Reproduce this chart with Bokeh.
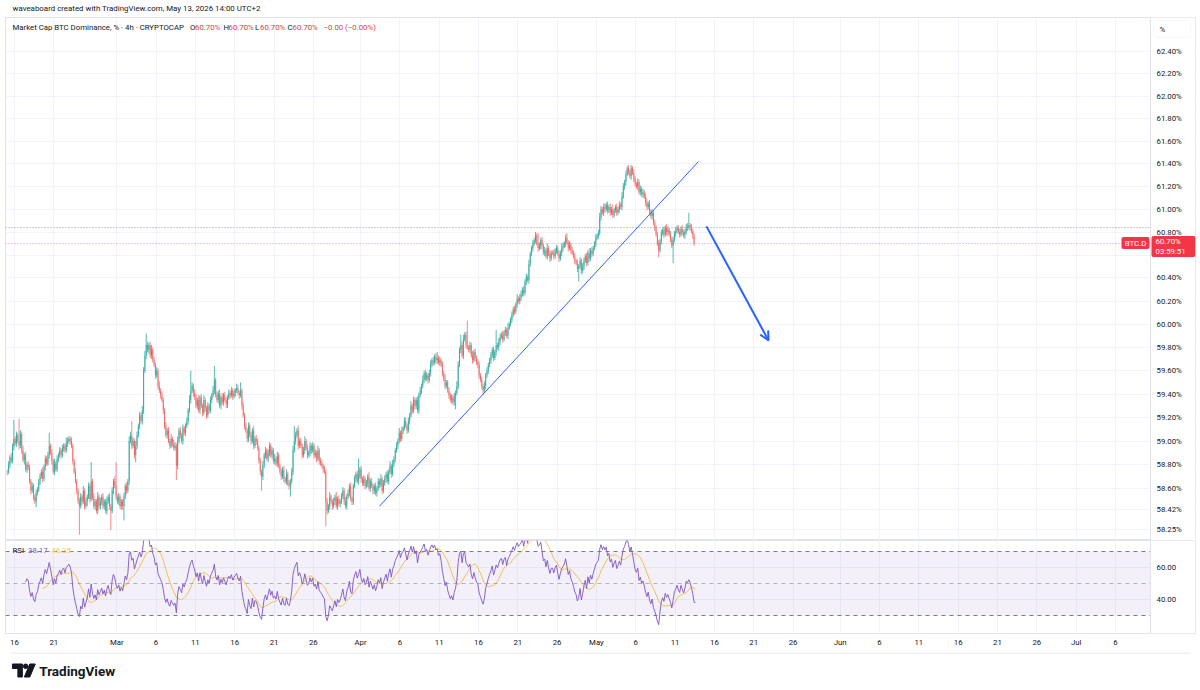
import math
import numpy as np
import pandas as pd
from bokeh.plotting import figure
from bokeh.layouts import column
from bokeh.models import (Range1d, FixedTicker, Span, Label, Arrow, OpenHead,
                          BoxAnnotation, ColumnDataSource)
from bokeh.embed import file_html
from bokeh.resources import INLINE

FONT = "Roboto"
INK = "#131722"
GRID = "#f0f3fa"
BORDER = "#e0e3eb"
UP = "#26a69a"
DOWN = "#ef5350"
TAG = "#f23645"
BLUE = "#2962ff"
RSI_COLOR = "#7e57c2"
MA_COLOR = "#f7cb4d"

# ---- BTC dominance, 4h closes (%) ----
close = [
    58.74, 58.80, 58.86, 58.83, 58.95, 59.02, 58.98, 59.05,
    59.00, 58.96, 59.06, 58.92, 58.84, 58.88, 58.76, 58.80,
    58.78, 58.66, 58.58, 58.62, 58.53, 58.49, 58.56, 58.59,
    58.66, 58.70, 58.74, 58.68, 58.78, 58.85, 58.81, 58.88,
    58.96, 58.90, 58.83, 58.74, 58.81, 58.76, 58.85, 58.88,
    58.92, 58.88, 58.94, 58.96, 58.92, 58.98, 59.00, 59.02,
    59.00, 58.96, 58.83, 58.74, 58.66, 58.58, 58.49, 58.45,
    58.53, 58.49, 58.58, 58.45, 58.49, 58.53, 58.62, 58.51,
    58.66, 58.53, 58.45, 58.49, 58.41, 58.53, 58.45, 58.49,
    58.53, 58.45, 58.49, 58.41, 58.49, 58.53, 58.45, 58.41,
    58.58, 58.66, 58.62, 58.53, 58.49, 58.53, 58.45, 58.49,
    58.45, 58.53, 58.62, 58.58, 58.66, 59.00, 59.05, 58.96,
    59.00, 58.88, 58.96, 59.05, 59.13, 59.22, 59.17, 59.26,
    59.60, 59.73, 59.82, 59.78, 59.82, 59.73, 59.78, 59.69,
    59.65, 59.56, 59.60, 59.47, 59.43, 59.39, 59.35, 59.26,
    59.13, 59.05, 59.09, 59.00, 58.96, 59.02, 58.98, 58.94,
    58.96, 58.79, 59.00, 59.09, 59.05, 59.00, 59.11, 59.07,
    59.13, 59.17, 59.26, 59.35, 59.43, 59.47, 59.41, 59.37,
    59.30, 59.35, 59.26, 59.37, 59.30, 59.24, 59.35, 59.28,
    59.22, 59.30, 59.26, 59.35, 59.39, 59.43, 59.52, 59.39,
    59.35, 59.41, 59.30, 59.37, 59.33, 59.39, 59.35, 59.31,
    59.37, 59.41, 59.39, 59.43, 59.38, 59.41, 59.43, 59.45,
    59.41, 59.39, 59.43, 59.30, 59.22, 59.13, 59.09, 59.02,
    59.13, 59.05, 59.00, 59.09, 58.96, 59.02, 59.00, 58.94,
    58.83, 58.74, 58.70, 58.79, 58.88, 58.92, 58.85, 58.90,
    58.96, 58.88, 58.92, 58.83, 58.85, 58.81, 58.88, 58.79,
    58.74, 58.70, 58.76, 58.68, 58.66, 58.72, 58.64, 58.62,
    58.66, 58.74, 58.92, 59.00, 59.05, 59.09, 58.96, 59.00,
    58.96, 58.88, 58.92, 59.00, 58.94, 58.88, 58.90, 58.96,
    58.92, 58.96, 58.88, 58.90, 58.85, 58.92, 58.83, 58.81,
    58.79, 58.76, 58.74, 58.49, 58.41, 58.45, 58.53, 58.49,
    58.45, 58.49, 58.53, 58.45, 58.51, 58.47, 58.49, 58.53,
    58.58, 58.49, 58.45, 58.53, 58.56, 58.62, 58.51, 58.49,
    58.62, 58.68, 58.72, 58.66, 58.70, 58.76, 58.68, 58.64,
    58.68, 58.62, 58.64, 58.70, 58.60, 58.66, 58.62, 58.58,
    58.62, 58.56, 58.60, 58.66, 58.63, 58.68, 58.58, 58.64,
    58.68, 58.72, 58.66, 58.74, 58.79, 58.72, 58.81, 58.85,
    58.92, 58.96, 59.00, 59.07, 59.02, 59.09, 59.11, 59.17,
    59.13, 59.09, 59.17, 59.22, 59.30, 59.26, 59.35, 59.30,
    59.35, 59.26, 59.39, 59.43, 59.47, 59.52, 59.58, 59.53,
    59.56, 59.52, 59.58, 59.65, 59.69, 59.67, 59.72, 59.69,
    59.71, 59.67, 59.69, 59.65, 59.58, 59.53, 59.47, 59.50,
    59.43, 59.39, 59.35, 59.37, 59.33, 59.38, 59.41, 59.47,
    59.65, 59.78, 59.82, 59.73, 59.87, 59.91, 59.82, 59.80,
    59.78, 59.82, 59.73, 59.69, 59.76, 59.71, 59.67, 59.65,
    59.56, 59.52, 59.47, 59.43, 59.47, 59.56, 59.60, 59.65,
    59.69, 59.73, 59.78, 59.71, 59.76, 59.82, 59.80, 59.85,
    59.89, 59.91, 59.87, 59.93, 59.95, 59.90, 59.97, 60.00,
    60.04, 60.08, 60.13, 60.11, 60.17, 60.22, 60.20, 60.23,
    60.26, 60.30, 60.27, 60.37, 60.41, 60.38, 60.52, 60.61,
    60.66, 60.70, 60.73, 60.77, 60.70, 60.66, 60.68, 60.73,
    60.68, 60.62, 60.64, 60.59, 60.66, 60.61, 60.57, 60.62,
    60.62, 60.59, 60.64, 60.66, 60.61, 60.57, 60.62, 60.66,
    60.68, 60.70, 60.75, 60.71, 60.66, 60.69, 60.64, 60.62,
    60.59, 60.55, 60.53, 60.48, 60.50, 60.55, 60.46, 60.50,
    60.55, 60.59, 60.53, 60.62, 60.57, 60.64, 60.61, 60.66,
    60.70, 60.75, 60.77, 60.79, 60.93, 61.00, 60.97, 61.02,
    61.00, 61.04, 60.99, 61.02, 60.97, 61.00, 60.95, 60.99,
    61.02, 60.97, 61.00, 61.04, 61.02, 61.11, 61.20, 61.24,
    61.31, 61.36, 61.33, 61.29, 61.36, 61.32, 61.27, 61.22,
    61.20, 61.24, 61.15, 61.18, 61.13, 61.15, 61.11, 61.06,
    61.02, 61.05, 60.98, 60.94, 60.97, 60.88, 60.84, 60.78,
    60.70, 60.64, 60.72, 60.79, 60.82, 60.78, 60.84, 60.80,
    60.82, 60.78, 60.74, 60.68, 60.73, 60.79, 60.81, 60.84,
    60.80, 60.78, 60.83, 60.80, 60.77, 60.80, 60.85, 60.84,
    60.86, 60.84, 60.81, 60.77, 60.70, 60.70,
]

# upper / lower shadows beyond the candle body, in hundredths of a point
wick_up = [
    2, 3, 2, 4, 3, 16, 2, 3,   2, 19, 3, 2, 4, 2, 3, 2,   3, 2, 2, 3, 2, 2, 3, 2,
    2, 3, 2, 4, 2, 3, 2, 3,    11, 2, 3, 2, 4, 2, 3, 2,   3, 2, 3, 2, 2, 5, 3, 2,
    2, 3, 2, 2, 3, 2, 2, 3,    3, 2, 4, 2, 3, 2, 3, 2,    16, 2, 3, 2, 2, 4, 2, 3,
    2, 3, 2, 2, 4, 2, 3, 2,    3, 2, 4, 20, 2, 3, 2, 2,   2, 3, 2, 3, 2, 4, 3, 12,
    3, 2, 4, 3, 2, 3, 2, 4,    3, 4, 10, 3, 2, 3, 4, 2,   3, 2, 3, 2, 4, 2, 3, 2,
    2, 3, 2, 3, 2, 4, 2, 3,    3, 2, 4, 2, 3, 2, 3, 2,    2, 3, 2, 4, 17, 3, 2, 3,
    3, 2, 4, 2, 3, 2, 4, 2,    2, 3, 2, 3, 2, 4, 12, 2,   3, 2, 3, 2, 4, 2, 3, 2,
    2, 3, 2, 3, 2, 3, 2, 4,    3, 2, 7, 2, 3, 2, 3, 2,    3, 2, 3, 2, 4, 2, 3, 2,
    2, 3, 2, 4, 2, 3, 2, 3,    3, 2, 3, 2, 4, 2, 3, 2,    2, 3, 2, 3, 2, 4, 2, 3,
    2, 3, 4, 13, 3, 2, 4, 2,   3, 2, 3, 4, 2, 3, 2, 3,    2, 3, 2, 3, 2, 4, 2, 3,
    3, 2, 3, 2, 3, 2, 4, 2,    2, 3, 2, 4, 2, 3, 2, 3,    3, 2, 4, 2, 3, 2, 3, 2,
    2, 3, 2, 3, 15, 2, 3, 2,   3, 2, 3, 2, 4, 2, 3, 2,    2, 3, 2, 3, 2, 4, 2, 3,
    3, 2, 3, 2, 4, 2, 3, 2,    2, 3, 2, 4, 2, 3, 2, 3,    3, 2, 3, 2, 4, 2, 3, 2,
    2, 3, 2, 3, 2, 4, 2, 3,    3, 2, 3, 4, 2, 3, 2, 3,    5, 2, 3, 2, 3, 2, 4, 2,
    2, 3, 2, 3, 2, 3, 2, 4,    3, 2, 9, 3, 4, 2, 3, 21,   2, 3, 2, 4, 2, 3, 2, 3,
    3, 2, 3, 2, 4, 2, 3, 2,    2, 3, 2, 3, 2, 13, 2, 3,   3, 2, 3, 2, 3, 2, 4, 2,
    2, 3, 2, 3, 2, 4, 2, 3,    3, 2, 3, 2, 3, 2, 4, 2,    2, 3, 2, 3, 2, 9, 3, 2,
    3, 2, 3, 2, 4, 2, 3, 2,    2, 3, 2, 3, 2, 3, 2, 4,    3, 2, 3, 4, 2, 3, 2, 3,
    2, 3, 2, 3, 2, 3, 2, 3,    3, 2, 3, 2, 4, 2, 3, 2,    2, 3, 2, 3, 4, 3, 2, 3,
    3, 2, 3, 2, 3, 2, 4, 2,    2, 3, 2, 3, 2, 4, 3, 2,    3, 2, 3, 2, 3, 2, 3, 2,
    2, 3, 2, 3, 2, 3, 2, 3,    3, 2, 3, 2, 3, 2, 3, 2,    2, 3, 2, 3, 2, 3, 2, 3,
    3, 2, 3, 2, 3, 2, 3, 2,    2, 3, 2, 3, 2, 3, 2, 3,    11, 2, 3, 2, 2, 0,
]
wick_down = [
    3, 2, 3, 2, 2, 3, 2, 3,    2, 3, 2, 3, 2, 4, 2, 3,    3, 2, 3, 2, 3, 2, 5, 2,
    2, 3, 2, 3, 2, 3, 2, 2,    3, 2, 3, 2, 3, 2, 2, 3,    2, 3, 2, 3, 2, 2, 3, 2,
    3, 2, 3, 2, 2, 3, 2, 24,   2, 3, 2, 3, 2, 4, 2, 3,    2, 3, 2, 3, 2, 3, 2, 3,
    3, 2, 3, 2, 3, 2, 3, 16,   2, 3, 2, 3, 2, 3, 2, 3,    3, 12, 2, 3, 2, 3, 2, 3,
    2, 3, 6, 3, 2, 3, 2, 3,    3, 2, 3, 2, 3, 2, 3, 2,    2, 3, 2, 3, 2, 3, 2, 3,
    3, 2, 3, 2, 3, 2, 3, 2,    2, 12, 3, 2, 3, 2, 3, 2,   3, 2, 3, 2, 3, 2, 3, 2,
    2, 3, 2, 3, 2, 3, 2, 3,    3, 2, 3, 2, 3, 2, 3, 2,    2, 3, 2, 3, 2, 3, 2, 3,
    3, 2, 3, 2, 3, 2, 3, 2,    2, 3, 2, 3, 2, 3, 2, 3,    3, 2, 3, 2, 3, 2, 3, 2,
    2, 3, 12, 3, 2, 3, 2, 3,   3, 2, 3, 2, 3, 2, 3, 2,    2, 3, 2, 3, 2, 3, 2, 3,
    9, 2, 3, 2, 3, 2, 3, 2,    2, 3, 2, 3, 2, 3, 2, 3,    3, 2, 3, 2, 3, 2, 3, 2,
    2, 3, 2, 21, 3, 2, 3, 2,   3, 2, 3, 2, 3, 2, 3, 2,    2, 3, 2, 3, 2, 3, 2, 3,
    3, 2, 3, 2, 3, 2, 3, 2,    2, 3, 2, 3, 2, 3, 2, 3,    3, 2, 3, 2, 3, 2, 3, 2,
    2, 3, 2, 3, 2, 3, 2, 3,    3, 2, 3, 2, 3, 2, 3, 2,    2, 3, 2, 3, 2, 3, 2, 3,
    3, 2, 3, 2, 3, 2, 3, 2,    2, 3, 2, 3, 2, 3, 2, 3,    3, 2, 3, 2, 3, 2, 3, 2,
    2, 3, 2, 3, 2, 3, 11, 2,   3, 2, 3, 2, 3, 2, 3, 2,    2, 3, 2, 3, 2, 3, 2, 3,
    3, 2, 3, 4, 2, 3, 2, 3,    2, 3, 2, 3, 2, 3, 2, 3,    3, 2, 3, 2, 3, 2, 3, 2,
    2, 3, 2, 3, 2, 3, 2, 3,    3, 2, 3, 2, 3, 2, 3, 2,    2, 3, 2, 3, 2, 3, 2, 3,
    3, 2, 3, 2, 3, 2, 3, 2,    2, 3, 2, 3, 2, 3, 2, 3,    3, 2, 3, 2, 3, 2, 3, 2,
    2, 3, 2, 3, 11, 2, 3, 2,   3, 2, 3, 2, 3, 2, 3, 2,    2, 3, 2, 3, 2, 3, 2, 3,
    3, 2, 3, 2, 3, 2, 3, 2,    2, 3, 2, 3, 2, 3, 2, 3,    3, 2, 3, 2, 3, 2, 3, 2,
    2, 3, 2, 3, 2, 3, 2, 3,    3, 2, 3, 2, 3, 2, 3, 2,    2, 6, 2, 3, 2, 3, 2, 3,
    3, 2, 3, 2, 15, 2, 3, 2,   2, 3, 2, 3, 2, 3, 2, 3,    2, 3, 2, 3, 2, 0,
]

first_bar = "2026-02-15T02:00"     # open time of the first 4h bar (UTC+2)
bar_hours = 4
day_zero = "2026-02-16T00:00"      # time axis is measured in days from here

date_ticks = ["2026-02-16", "2026-02-21", "2026-03-01", "2026-03-06", "2026-03-11",
              "2026-03-16", "2026-03-21", "2026-03-26", "2026-04-01", "2026-04-06",
              "2026-04-11", "2026-04-16", "2026-04-21", "2026-04-26", "2026-05-01",
              "2026-05-06", "2026-05-11", "2026-05-16", "2026-05-21", "2026-05-26",
              "2026-06-01", "2026-06-06", "2026-06-11", "2026-06-16", "2026-06-21",
              "2026-06-26", "2026-07-01", "2026-07-06"]
date_labels = ["16", "21", "Mar", "6", "11", "16", "21", "26", "Apr", "6", "11", "16",
               "21", "26", "May", "6", "11", "16", "21", "26", "Jun", "6", "11", "16",
               "21", "26", "Jul", "6"]

price_ticks = [58.25, 58.42, 58.60, 58.80, 59.00, 59.20, 59.40, 59.60, 59.80, 60.00,
               60.20, 60.40, 60.80, 61.00, 61.20, 61.40, 61.60, 61.80, 62.00, 62.20, 62.40]
price_grid = price_ticks + [60.60]
rsi_ticks = [40, 60]
rsi_levels = [70, 50, 30]
rsi_len = 14
rsi_ma_len = 14

marker_level = 60.84                                   # dotted horizontal level
trend_time = ["2026-04-03T09:50", "2026-05-13T23:30"]  # rising trendline
trend_value = [58.45, 61.42]
arrow_time = ["2026-05-14T23:45", "2026-05-22T21:10"]  # projected move
arrow_value = [60.85, 59.86]
bar_countdown = "03:59:51"

assert len(close) == len(wick_up) == len(wick_down)

# ---- page geometry (canvas pixels) ----
FRAME_L, FRAME_R = 5, 1195        # plot frames
SCALE_X = 1150                    # price-scale column starts here
X_ZERO, PX_PER_DAY = 14.0, 7.864  # pixel of day_zero, pixels per day
PRICE_TOP, PRICE_BOT = 17, 540
price_lo, price_hi = 58.162, 62.706


def day_at(px):
    return (px - X_ZERO) / PX_PER_DAY


def value_at(py):
    f = (py - PRICE_TOP) / (PRICE_BOT - PRICE_TOP)
    return math.exp(math.log(price_hi) - f * (math.log(price_hi) - math.log(price_lo)))


def px_of(v):
    f = (math.log(price_hi) - math.log(v)) / (math.log(price_hi) - math.log(price_lo))
    return PRICE_TOP + f * (PRICE_BOT - PRICE_TOP)


# ---- derived series ----
origin = np.datetime64(day_zero)


def to_days(times):
    t = np.asarray(times, dtype="datetime64[m]")
    return (t - origin) / np.timedelta64(1, "D")


n = len(close)
bar_time = np.datetime64(first_bar) + np.arange(n) * np.timedelta64(bar_hours, "h")
x = to_days(bar_time)
c = np.array(close)
o = np.concatenate([[c[0]], c[:-1]])
hi = np.maximum(o, c) + np.array(wick_up) / 100.0
lo = np.minimum(o, c) - np.array(wick_down) / 100.0
colors = np.where(c > o, UP, DOWN)
alphas = np.where(c > o, 0.78, 0.68)

# Wilder RSI and its simple moving average
diff = np.diff(c)
gain = np.where(diff > 0, diff, 0.0)
loss = np.where(diff < 0, -diff, 0.0)
rsi = np.full(n, np.nan)
avg_g, avg_l = gain[:rsi_len].mean(), loss[:rsi_len].mean()
rsi[rsi_len] = 100.0 - 100.0 / (1.0 + avg_g / avg_l)
for k in range(rsi_len, len(diff)):
    avg_g = (avg_g * (rsi_len - 1) + gain[k]) / rsi_len
    avg_l = (avg_l * (rsi_len - 1) + loss[k]) / rsi_len
    rsi[k + 1] = 100.0 if avg_l == 0 else 100.0 - 100.0 / (1.0 + avg_g / avg_l)
rsi_ma = pd.Series(rsi).rolling(rsi_ma_len).mean().to_numpy()

tick_days = [int(v) for v in to_days(date_ticks)]
last = c[-1]
change = c[-1] - c[-2]

bars = ColumnDataSource(dict(x=x, hi=hi, lo=lo, top=np.maximum(o, c),
                             bottom=np.minimum(o, c), color=colors, alpha=alphas))
osc = ColumnDataSource(dict(x=x, rsi=rsi, ma=rsi_ma))

x_rng = Range1d(day_at(FRAME_L), day_at(FRAME_R))


def label(fig, x, y, s, color=INK, size="7.8px", x_units="screen", y_units="screen", **kw):
    fig.add_layout(Label(x=x, y=y, x_units=x_units, y_units=y_units, text=s,
                         text_font=FONT, text_font_size=size, text_color=color,
                         text_baseline="middle", **kw))


def scale_column(fig):
    """Blank out the price-scale column and draw its separator."""
    fig.add_layout(BoxAnnotation(left=day_at(SCALE_X + 0.5), fill_color="white",
                                 fill_alpha=1.0, line_color=None))
    fig.add_layout(Span(location=day_at(SCALE_X), dimension="height",
                        line_color=BORDER, line_width=1))


# ---- header strip ----
head = figure(width=1200, height=17, x_range=(0, 1200), y_range=(0, 17),
              x_axis_location=None, y_axis_location=None, output_backend="svg",
              toolbar_location=None, title=None, min_border=0, outline_line_color=None)
head.grid.visible = False
label(head, 7, 9, "waveaboard created with TradingView.com, May 13, 2026 14:00 UTC+2",
      size="7.9px")

# ---- price pane ----
p = figure(width=1200, height=PRICE_BOT - PRICE_TOP, x_range=x_rng,
           y_range=Range1d(price_lo, price_hi), y_axis_type="log",
           x_axis_location=None, y_axis_location=None,
           output_backend="svg", toolbar_location=None, title=None,
           min_border_left=FRAME_L, min_border_right=1200 - FRAME_R,
           min_border_top=0, min_border_bottom=0, outline_line_color=BORDER)
p.xgrid.ticker = FixedTicker(ticks=tick_days)
p.ygrid.ticker = FixedTicker(ticks=price_grid)
p.grid.grid_line_color = GRID

p.add_layout(Span(location=marker_level, dimension="width", line_color="#9598a1",
                  line_dash="1 2", line_width=1))
p.add_layout(Span(location=last, dimension="width", line_color=TAG, line_alpha=0.55,
                  line_dash="1 2", line_width=1))

p.segment(x0="x", y0="lo", x1="x", y1="hi", line_color="color", line_alpha="alpha",
          line_width=1, source=bars)
p.vbar(x="x", width=0.12, top="top", bottom="bottom", fill_color="color",
       fill_alpha="alpha", line_color=None, source=bars)

p.line(x=to_days(trend_time), y=trend_value, line_color=BLUE, line_width=1)
ax_days = to_days(arrow_time)
p.add_layout(Arrow(end=OpenHead(size=9, line_color=BLUE, line_width=2),
                   x_start=ax_days[0], y_start=arrow_value[0],
                   x_end=ax_days[1], y_end=arrow_value[1],
                   line_color=BLUE, line_width=2))

scale_column(p)

# price scale labels
for t in price_ticks:
    label(p, SCALE_X + 6 - FRAME_L, t, f"{t:.2f}%", y_units="data")

# unit box at the top of the scale
p.add_layout(BoxAnnotation(left=day_at(1153), right=day_at(1190), top=value_at(20),
                           bottom=value_at(37), fill_color="white", line_color=BORDER,
                           line_width=1, border_radius=3))
label(p, 1159 - FRAME_L, value_at(28.5), "%", y_units="data")

# legend row
ly = PRICE_BOT - 27
label(p, 7, ly, "Market Cap BTC Dominance, % \u00b7 4h \u00b7 CRYPTOCAP")
for lab, lx in (("O", 184.5), ("H", 218), ("L", 249.5), ("C", 282)):
    label(p, lx, ly, lab)
    label(p, lx + 5, ly, f"{last:.2f}%", color=TAG)
label(p, 318, ly, f"\u2212{abs(change):.2f} (\u2212{abs(change) / c[-2] * 100:.2f}%)",
      color=TAG)

# last price tags
py = px_of(last)
p.add_layout(BoxAnnotation(left=day_at(1121), right=day_at(1149), top=value_at(py - 6.5),
                           bottom=value_at(py + 5.5), fill_color=TAG, fill_alpha=1.0,
                           line_color=None, border_radius=2))
label(p, 1135 - FRAME_L, value_at(py - 0.5), "BTC.D", color="white", y_units="data",
      text_align="center")
p.add_layout(BoxAnnotation(left=day_at(1151), right=day_at(1195), top=value_at(py - 7.5),
                           bottom=value_at(py + 13.5), fill_color=TAG, fill_alpha=1.0,
                           line_color=None, border_radius=2))
label(p, 1155 - FRAME_L, value_at(py - 2), f"{last:.2f}%", color="white", y_units="data")
label(p, 1155 - FRAME_L, value_at(py + 8), bar_countdown, color="white", y_units="data")

# ---- RSI pane ----
r = figure(width=1200, height=112, x_range=x_rng, y_range=Range1d(18.75, 76.875),
           y_axis_location=None, output_backend="svg", toolbar_location=None,
           title=None, min_border_left=FRAME_L, min_border_right=1200 - FRAME_R,
           min_border_top=0, min_border_bottom=19, outline_line_color=BORDER)
r.xgrid.ticker = FixedTicker(ticks=tick_days)
r.ygrid.ticker = FixedTicker(ticks=rsi_ticks)
r.grid.grid_line_color = GRID
r.xaxis.ticker = FixedTicker(ticks=tick_days)
r.xaxis.major_label_overrides = dict(zip(tick_days, date_labels))
r.xaxis.major_tick_out = 0
r.xaxis.major_tick_in = 0
r.xaxis.major_label_standoff = 4
r.xaxis.axis_line_color = BORDER
r.xaxis.major_tick_line_color = None
r.xaxis.minor_tick_line_color = None
r.xaxis.major_label_text_font = FONT
r.xaxis.major_label_text_font_size = "7.8px"
r.xaxis.major_label_text_color = INK

r.add_layout(BoxAnnotation(bottom=rsi_levels[2], top=rsi_levels[0], fill_color=RSI_COLOR,
                           fill_alpha=0.09, line_color=None))
for lv, alpha in zip(rsi_levels, (1.0, 0.55, 1.0)):
    r.add_layout(Span(location=lv, dimension="width", line_color="#787b86",
                      line_alpha=alpha, line_dash="4 4", line_width=1))
r.line(x="x", y="ma", line_color=MA_COLOR, line_width=1, source=osc)
r.line(x="x", y="rsi", line_color=RSI_COLOR, line_alpha=0.9, line_width=1, source=osc)

scale_column(r)
for t in rsi_ticks:
    label(r, SCALE_X + 6 - FRAME_L, t, f"{t:.2f}", y_units="data")

label(r, 7, 83, "RSI")
label(r, 22.5, 83, f"{rsi[-1]:.2f}", color=RSI_COLOR)
label(r, 46, 83, f"{rsi_ma[-1]:.2f}", color=MA_COLOR)

# ---- footer with wordmark ----
foot = figure(width=1200, height=38, x_range=(0, 1200), y_range=(38, 0),
              x_axis_location=None, y_axis_location=None, output_backend="svg",
              toolbar_location=None, title=None, min_border=0, outline_line_color=None)
foot.grid.visible = False
foot.segment(x0=[FRAME_L], y0=[0.5], x1=[FRAME_R], y1=[0.5], line_color=BORDER,
             line_width=1)
foot.patch([7, 17, 17, 12.5, 12.5, 7], [11.5, 11.5, 24.5, 24.5, 16, 16], color=INK)
foot.circle(x=[20.3], y=[13.8], radius=2.3, color=INK)
foot.patch([24.5, 30, 24.5, 19], [11.5, 11.5, 24.5, 24.5], color=INK)
foot.add_layout(Label(x=34, y=18, text="TradingView", text_font=FONT,
                      text_font_size="13.5px", text_font_style="bold", text_color=INK,
                      text_baseline="middle"))

layout = column(head, p, r, foot, spacing=0)
open("out.html", "w").write(file_html(layout, INLINE, "BTC.D"))
